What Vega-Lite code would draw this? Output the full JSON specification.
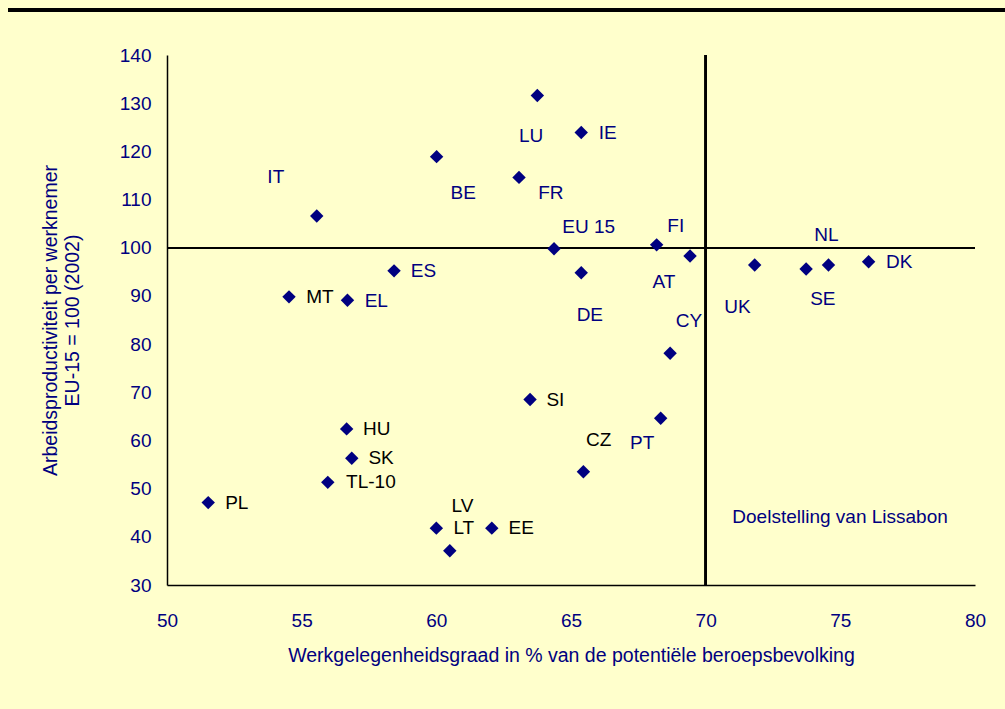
{
  "$schema": "https://vega.github.io/schema/vega-lite/v6.json",
  "width": 808,
  "height": 530,
  "autosize": {"type": "none"},
  "padding": {"left": 167, "top": 55, "right": 30, "bottom": 124},
  "background": "#FFFFCC",
  "config": {
    "view": {"stroke": null},
    "axis": {
      "domainColor": "#000000",
      "domainWidth": 1.5,
      "ticks": false,
      "grid": false,
      "labelFlush": false,
      "labelColor": "#000080",
      "titleColor": "#000080",
      "labelFont": "Liberation Sans, Arial",
      "titleFont": "Liberation Sans, Arial",
      "labelFontSize": 19,
      "titleFontSize": 19.5,
      "titleFontWeight": "normal"
    }
  },
  "data": {
    "values": [
      {"land": "IT", "x": 55.56, "y": 106.6, "lx": 54.04, "ly": 114.75, "labelgroep": "A"},
      {"land": "MT", "x": 54.53, "y": 89.8, "lx": 55.68, "ly": 89.83, "labelgroep": "B"},
      {"land": "EL", "x": 56.70, "y": 89.1, "lx": 57.77, "ly": 89.0, "labelgroep": "A"},
      {"land": "ES", "x": 58.43, "y": 95.2, "lx": 59.52, "ly": 95.23, "labelgroep": "A"},
      {"land": "BE", "x": 60.01, "y": 118.9, "lx": 61.0, "ly": 111.42, "labelgroep": "A"},
      {"land": "LU", "x": 63.75, "y": 131.6, "lx": 63.52, "ly": 123.19, "labelgroep": "A"},
      {"land": "IE", "x": 65.38, "y": 123.9, "lx": 66.36, "ly": 123.9, "labelgroep": "A"},
      {"land": "FR", "x": 63.07, "y": 114.6, "lx": 64.25, "ly": 111.42, "labelgroep": "A"},
      {"land": "EU 15", "x": 64.37, "y": 99.8, "lx": 65.66, "ly": 104.36, "labelgroep": "A"},
      {"land": "FI", "x": 68.18, "y": 100.6, "lx": 68.89, "ly": 104.57, "labelgroep": "A"},
      {"land": "AT", "x": 69.42, "y": 98.3, "lx": 68.45, "ly": 92.95, "labelgroep": "A"},
      {"land": "DE", "x": 65.38, "y": 94.8, "lx": 65.70, "ly": 86.04, "labelgroep": "A"},
      {"land": "CY", "x": 68.68, "y": 78.1, "lx": 69.38, "ly": 84.86, "labelgroep": "A"},
      {"land": "UK", "x": 71.82, "y": 96.4, "lx": 71.18, "ly": 87.63, "labelgroep": "A"},
      {"land": "SE", "x": 73.73, "y": 95.6, "lx": 74.35, "ly": 89.29, "labelgroep": "A"},
      {"land": "NL", "x": 74.56, "y": 96.4, "lx": 74.48, "ly": 102.64, "labelgroep": "A"},
      {"land": "DK", "x": 76.05, "y": 97.1, "lx": 77.19, "ly": 96.97, "labelgroep": "A"},
      {"land": "SI", "x": 63.48, "y": 68.5, "lx": 64.42, "ly": 68.4, "labelgroep": "B"},
      {"land": "PT", "x": 68.33, "y": 64.6, "lx": 67.64, "ly": 59.53, "labelgroep": "A"},
      {"land": "CZ", "x": 65.46, "y": 53.5, "lx": 66.03, "ly": 60.09, "labelgroep": "B"},
      {"land": "HU", "x": 56.67, "y": 62.4, "lx": 57.79, "ly": 62.31, "labelgroep": "B"},
      {"land": "SK", "x": 56.86, "y": 56.3, "lx": 57.95, "ly": 56.29, "labelgroep": "B"},
      {"land": "TL-10", "x": 55.97, "y": 51.3, "lx": 57.57, "ly": 51.31, "labelgroep": "B"},
      {"land": "PL", "x": 51.53, "y": 47.1, "lx": 52.59, "ly": 46.95, "labelgroep": "B"},
      {"land": "LT", "x": 60.0, "y": 41.8, "lx": 61.02, "ly": 41.76, "labelgroep": "B"},
      {"land": "LV", "x": 60.5, "y": 37.1, "lx": 60.97, "ly": 46.39, "labelgroep": "B"},
      {"land": "EE", "x": 62.06, "y": 41.8, "lx": 63.15, "ly": 41.76, "labelgroep": "B"},
      {"land": "Doelstelling van Lissabon", "lx": 74.99, "ly": 44.17, "labelgroep": "A"}
    ]
  },
  "layer": [
    {
      "mark": {"type": "rule", "color": "#000000", "strokeWidth": 1.5},
      "encoding": {
        "y": {"datum": 100, "type": "quantitative"},
        "x": {"datum": 50, "type": "quantitative"},
        "x2": {"datum": 80}
      }
    },
    {
      "mark": {"type": "rule", "color": "#000000", "strokeWidth": 1.5},
      "encoding": {
        "x": {"datum": 70, "type": "quantitative"},
        "y": {"datum": 30, "type": "quantitative"},
        "y2": {"datum": 140}
      }
    },
    {
      "mark": {"type": "rule", "color": "#000000", "strokeWidth": 3},
      "encoding": {
        "y": {"datum": 149.4, "type": "quantitative"},
        "x": {"datum": 44.1, "type": "quantitative"},
        "x2": {"datum": 81.2}
      }
    },
    {
      "transform": [{"filter": "isValid(datum.x)"}],
      "mark": {"type": "point", "shape": "diamond", "filled": true, "color": "#000080", "opacity": 1, "size": 180},
      "encoding": {
        "x": {
          "field": "x", "type": "quantitative",
          "scale": {"domain": [50, 80], "nice": false, "zero": false},
          "axis": {"values": [50, 55, 60, 65, 70, 75, 80], "labelPadding": 26, "titlePadding": 16,
                   "title": "Werkgelegenheidsgraad in % van de potentiële beroepsbevolking"}
        },
        "y": {
          "field": "y", "type": "quantitative",
          "scale": {"domain": [30, 140], "nice": false, "zero": false},
          "axis": {"values": [30, 40, 50, 60, 70, 80, 90, 100, 110, 120, 130, 140], "labelPadding": 16, "titlePadding": 37,
                   "title": ["Arbeidsproductiviteit per werknemer", "EU-15 = 100 (2002)"], "titleLineHeight": 22}
        }
      }
    },
    {
      "mark": {"type": "text", "align": "center", "baseline": "middle", "font": "Liberation Sans, Arial", "fontSize": 19},
      "encoding": {
        "x": {"field": "lx", "type": "quantitative"},
        "y": {"field": "ly", "type": "quantitative"},
        "text": {"field": "land"},
        "color": {"field": "labelgroep", "type": "nominal", "scale": {"domain": ["A", "B"], "range": ["#000080", "#000000"]}, "legend": null}
      }
    }
  ]
}
